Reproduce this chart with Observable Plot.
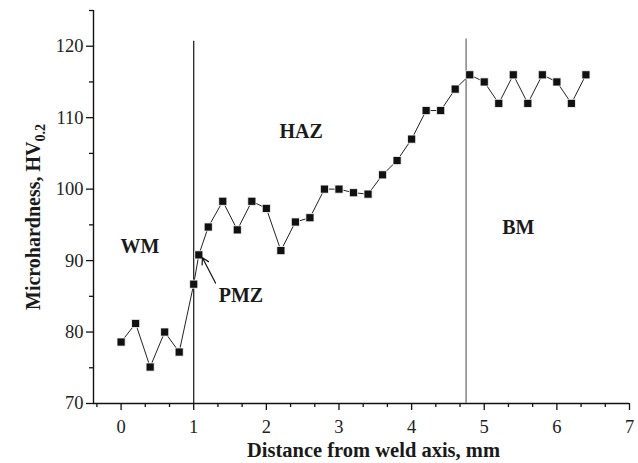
<!DOCTYPE html>
<html><head><meta charset="utf-8">
<script src="https://cdn.jsdelivr.net/npm/d3@7"></script>
<script src="https://cdn.jsdelivr.net/npm/@observablehq/plot@0.6"></script>
<style>body{margin:0;background:#fff}</style>
</head><body><div id="chart"></div>
<script>
const distance = [0, 0.2, 0.4, 0.6, 0.8, 1.0, 1.07, 1.2, 1.4, 1.6, 1.8, 2.0, 2.2, 2.4, 2.6, 2.8, 3.0, 3.2, 3.4, 3.6, 3.8, 4.0, 4.2, 4.4, 4.6, 4.8, 5.0, 5.2, 5.4, 5.6, 5.8, 6.0, 6.2, 6.4];
const hardness = [78.6, 81.2, 75.1, 80.0, 77.2, 86.7, 90.8, 94.7, 98.3, 94.3, 98.3, 97.3, 91.4, 95.4, 96.0, 100.0, 100.0, 99.5, 99.3, 102.0, 104.0, 107.0, 111.0, 111.0, 114.0, 116.0, 115.0, 112.0, 116.0, 112.0, 116.0, 115.0, 112.0, 116.0];
const boundaryX = [1.0, 4.75];
const boundaryTop = [120.7, 121.0];
const boundaryColor = ["#111", "#666"];
const zoneLabels = ["WM", "PMZ", "HAZ", "BM"];
const zoneX = [0.26, 1.65, 2.48, 5.47];
const zoneY = [91.9, 85.1, 108.0, 94.6];
const arrowFrom = [1.30, 86.85];
const arrowTo = [1.12, 90.4];
const xMajor = [0, 1, 2, 3, 4, 5, 6, 7];
const xMinor = [-1/3, 1/3, 2/3, 4/3, 5/3, 7/3, 8/3, 10/3, 11/3, 13/3, 14/3, 16/3, 17/3, 19/3, 20/3];
const yMajor = [70, 80, 90, 100, 110, 120];
const yMinor = [75, 85, 95, 105, 115, 125];
const xTitle = "Distance from weld axis, mm";
const yTitle = "Microhardness, HV";
const yTitleSub = "0.2";

const pts = distance.map((d, i) => ({x: d, y: hardness[i]}));
const bounds = boundaryX.map((x, i) => ({x, top: boundaryTop[i], c: boundaryColor[i]}));
const zones = zoneLabels.map((t, i) => ({t, x: zoneX[i], y: zoneY[i]}));
const xMin = -0.38;

const serif = "'Liberation Serif', 'Times New Roman', serif";
const plot = Plot.plot({
  width: 638, height: 463,
  marginLeft: 93, marginRight: 9, marginTop: 10, marginBottom: 60,
  style: {fontFamily: serif, fontSize: "18px", color: "#222", background: "#fff"},
  x: {domain: [xMin, 7]},
  y: {domain: [70, 125]},
  marks: [
    Plot.axisX({ticks: xMajor, tickSize: 7, tickPadding: 9, tickFormat: d => String(d), label: null, fontSize: 18.5, strokeWidth: 1.3, stroke: "#111"}),
    Plot.axisX({ticks: xMinor, tickSize: 4, text: null, label: null, strokeWidth: 1.3, stroke: "#111"}),
    Plot.axisY({ticks: yMajor, tickSize: 7, tickPadding: 3, label: null, fontSize: 18.5, strokeWidth: 1.3, stroke: "#111"}),
    Plot.axisY({ticks: yMinor, tickSize: 4, text: null, label: null, strokeWidth: 1.3, stroke: "#111"}),
    Plot.ruleY([70], {stroke: "#111", strokeWidth: 1.4}),
    Plot.ruleX([xMin], {stroke: "#111", strokeWidth: 1.4}),
    Plot.ruleX(bounds, {x: "x", y1: 70, y2: "top", stroke: "c", strokeWidth: 1.2}),
    Plot.line(pts, {x: "x", y: "y", stroke: "#222", strokeWidth: 1}),
    Plot.dot(pts, {x: "x", y: "y", symbol: "square", r: 4.6, fill: "#111", stroke: "#fff", strokeWidth: 0.8}),
    Plot.arrow([{x1: arrowFrom[0], y1: arrowFrom[1], x2: arrowTo[0], y2: arrowTo[1]}], {x1: "x1", y1: "y1", x2: "x2", y2: "y2", stroke: "#111", strokeWidth: 1.2, headLength: 9}),
    Plot.text(zones, {x: "x", y: "y", text: "t", fontWeight: "bold", fontSize: 20, fill: "#1a1a1a"}),
    Plot.text([xTitle], {frameAnchor: "bottom", lineAnchor: "middle", dy: 47, dx: 12, fontWeight: "bold", fontSize: 20.5, fill: "#1a1a1a", text: d => d})
  ]
});
document.getElementById("chart").appendChild(plot);
const svg = d3.select(plot);
const t = svg.append("text")
  .attr("transform", "translate(40,217) rotate(-90)")
  .attr("text-anchor", "middle")
  .attr("font-family", serif)
  .attr("font-weight", "bold")
  .attr("font-size", 20)
  .attr("fill", "#1a1a1a");
t.append("tspan").text(yTitle);
t.append("tspan").attr("font-size", 14).attr("dy", 5).text(yTitleSub);
</script>
</body></html>
